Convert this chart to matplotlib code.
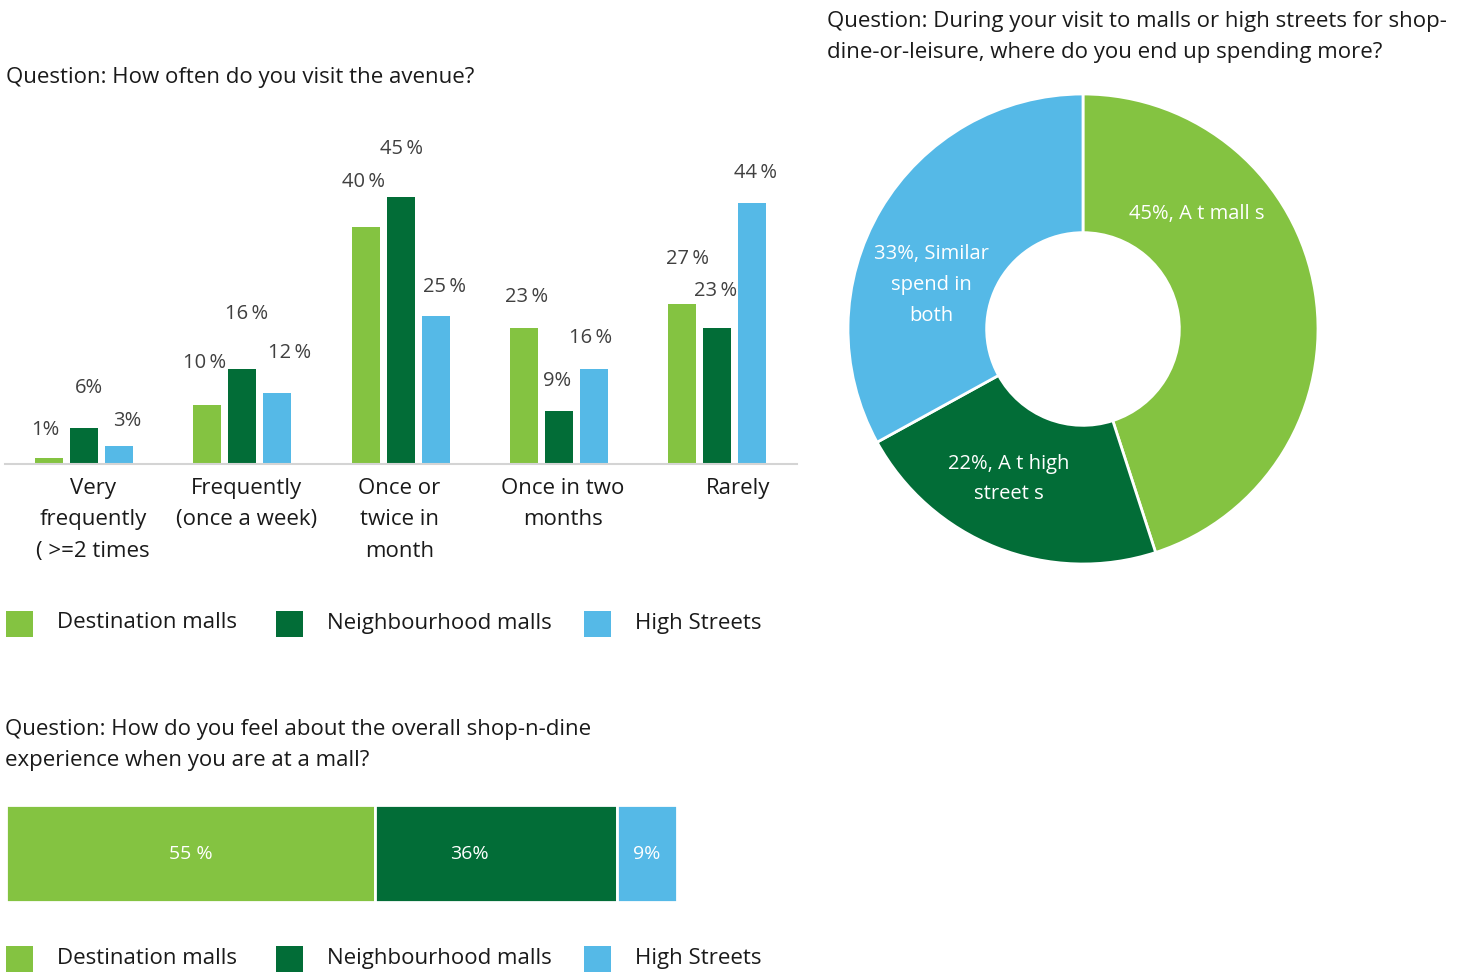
import matplotlib.pyplot as plt
from matplotlib.patches import Rectangle

plt.rcParams['font.family'] = ['Open Sans', 'DejaVu Sans']

W, H = 1462, 972

# visit frequency survey
categories = ["Very\nfrequently\n( >=2 times", "Frequently\n(once a week)", "Once or\ntwice in\nmonth",
              "Once in two\nmonths", "Rarely"]
destination = [1, 10, 40, 23, 27]
neighbourhood = [6, 16, 45, 9, 23]
high_streets = [3, 12, 25, 16, 44]
series_names = ["Destination malls", "Neighbourhood malls", "High Streets"]

# where people spend more
spend_labels = ["45%, A t mall s", "22%, A t high\nstreet s", "33%, Similar\nspend in\nboth"]
spend_values = [45, 22, 33]

# overall shop-n-dine experience
experience = [55, 36, 9]
experience_labels = ["55 %", "36%", "9%"]

LIGHT = "#84C341"
DARK = "#026D37"
BLUE = "#55B9E7"
colors = [LIGHT, DARK, BLUE]

# label nudges (px, relative to bar top centre)
label_nudge = [
    [(-4, 28), (5, 40), (8, 25)],
    [(-3, 42), (4, 55), (12, 40)],
    [(-2, 45), (1, 48), (9, 29)],
    [(3, 31), (-2, 30), (-3, 31)],
    [(6, 45), (-1, 37), (4, 30)],
]
# category label shift from group centre (px)
cat_nudge = [9, 4, -1, 4, 21]


def fx(x):
    return x / W


def fy(y):
    return 1 - y / H


def pct(v):
    return f"{v}%" if v < 10 else f"{v}\u2009%"


fig = plt.figure(figsize=(W / 100, H / 100), dpi=100)

# ---- grouped bar chart ----
ax = fig.add_axes([fx(5), fy(464), 792 / W, 296.5 / H])
step = 158.25
bw = 28 / step
off = 35 / step
xs = list(range(len(categories)))
for k, vals in enumerate([destination, neighbourhood, high_streets]):
    pos = [x + (k - 1) * off for x in xs]
    ax.bar(pos, vals, width=bw, color=colors[k], linewidth=0)
    for i, v in enumerate(vals):
        dx, dy = label_nudge[i][k]
        ax.annotate(pct(v), (pos[i], v), xytext=(dx * 0.72, dy * 0.72), textcoords="offset points",
                    ha="center", va="center", fontsize=14.5, color="#404040")
ax.set_xlim(-79 / step, 4 + 80 / step)
ax.set_ylim(0, 50)
for s in ["top", "right", "left"]:
    ax.spines[s].set_visible(False)
ax.spines["bottom"].set_color("#d4d4d4")
ax.spines["bottom"].set_linewidth(1.5)
ax.set_yticks([])
ax.set_xticks([x + n / step for x, n in zip(xs, cat_nudge)])
ax.set_xticklabels(categories, fontsize=16, color="#1a1a1a", linespacing=1.66, va="top")
ax.tick_params(axis="x", length=0, pad=10)

fig.text(fx(6), fy(77), "Question: How often do you visit the avenue?", fontsize=16,
         color="#1a1a1a", ha="left", va="center")


def legend_row(ycen):
    xs_sq = [6, 276, 584]
    xs_tx = [57, 327, 635]
    for k in range(3):
        fig.add_artist(Rectangle((fx(xs_sq[k]), fy(ycen + 13)), 27 / W, 26 / H,
                                 transform=fig.transFigure, color=colors[k], linewidth=0))
        fig.text(fx(xs_tx[k]), fy(ycen - 1), series_names[k], fontsize=16, color="#1a1a1a",
                 ha="left", va="center")


legend_row(624)

# ---- donut chart ----
cx, cy, r = 1083, 329, 235
pax = fig.add_axes([fx(cx - r), fy(cy + r), 2 * r / W, 2 * r / H])
pax.pie(spend_values, colors=colors, startangle=90, counterclock=False, radius=1,
        wedgeprops=dict(width=0.59, edgecolor="white", linewidth=2))
pax.set_xlim(-1, 1)
pax.set_ylim(-1, 1)
label_pos = [(0.485, 0.489), (-0.315, -0.638), (-0.647, 0.187)]
for (lx, ly), t in zip(label_pos, spend_labels):
    pax.text(lx, ly, t, ha="center", va="center", color="white", fontsize=14.5, linespacing=1.72)

fig.text(fx(827), fy(37),
         "Question: During your visit to malls or high streets for shop-\n"
         "dine-or-leisure, where do you end up spending more?",
         fontsize=16, color="#1a1a1a", ha="left", va="center", linespacing=1.66)

# ---- stacked experience bar ----
hax = fig.add_axes([fx(6), fy(902), 671 / W, 97 / H])
text_shift = [0, -4, 0]
left = 0
for k, v in enumerate(experience):
    hax.barh(0, v, left=left, height=1, color=colors[k], edgecolor="white", linewidth=2)
    hax.text(left + v / 2 + text_shift[k], 0, experience_labels[k], ha="center", va="center",
             color="white", fontsize=14)
    left += v
hax.set_xlim(0, 100)
hax.set_ylim(-0.5, 0.5)
hax.axis("off")

fig.text(fx(5), fy(745),
         "Question: How do you feel about the overall shop-n-dine\n"
         "experience when you are at a mall?",
         fontsize=16, color="#1a1a1a", ha="left", va="center", linespacing=1.66)

legend_row(959)

fig.savefig("out.png", dpi=100)
